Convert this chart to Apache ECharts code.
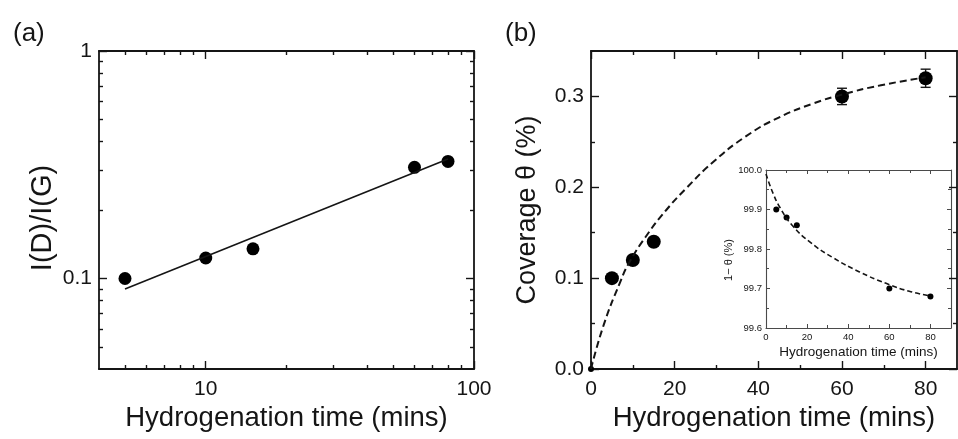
<!DOCTYPE html>
<html lang="en">
<head>
<meta charset="UTF-8">
<title>Hydrogenation time</title>
<style>
  html, body { margin: 0; padding: 0; background: #fff; }
  #main { width: 958px; height: 439px; }
</style>
</head>
<body>
<div id="main"></div>
<script src="https://cdn.jsdelivr.net/npm/echarts@6/dist/echarts.min.js"></script>
<script>
// (a) I(D)/I(G) against time, log-log
const aTime = [5, 10, 15, 60, 80];
const aRatio = [0.100, 0.123, 0.135, 0.308, 0.327];
const aFitTime = [5, 80];
const aFitRatio = [0.090, 0.335];
const aXMajor = [10, 100];
const aXMinor = [5, 6, 7, 8, 9, 20, 30, 40, 50, 60, 70, 80, 90];
const aYMajor = [0.1, 1];
const aYMinor = [0.05, 0.06, 0.07, 0.08, 0.09, 0.2, 0.3, 0.4, 0.5, 0.6, 0.7, 0.8, 0.9];

// (b) coverage against time
const bTime = [0, 5, 10, 15, 60, 80];
const bCov = [0, 0.100, 0.120, 0.140, 0.300, 0.320];
const bErrTime = [60, 80];
const bErrLow = [0.291, 0.310];
const bErrHigh = [0.309, 0.330];
const bFitTime = [0, 3, 7, 9, 13, 18, 23, 29, 37, 45, 53, 60, 69, 80];
const bFitCov = [0, 0.048, 0.096, 0.116, 0.145, 0.175, 0.200, 0.227, 0.256, 0.277, 0.292, 0.302, 0.312, 0.321];
const bXMajor = [0, 20, 40, 60, 80];
const bXMinor = [10, 30, 50, 70];
const bYMajor = [0, 0.1, 0.2, 0.3];
const bYMinor = [0.05, 0.15, 0.25];

// inset: 1 - theta
const iTime = [5, 10, 15, 60, 80];
const iVal = [99.90, 99.88, 99.86, 99.70, 99.68];
const iFitTime = [0, 3.5, 6.8, 12.4, 21.3, 32.6, 45.5, 58.4, 69.7, 80];
const iFitVal = [99.99, 99.94, 99.905, 99.862, 99.818, 99.778, 99.742, 99.713, 99.693, 99.681];
const iXMajor = [0, 20, 40, 60, 80];
const iXMinor = [10, 30, 50, 70, 90];
const iYMajor = [99.6, 99.7, 99.8, 99.9, 100.0];
const iYMinor = [99.65, 99.75, 99.85, 99.95];

const INK = '#151515';
const FONT = 'Liberation Sans';
const zip = (xs, ys) => xs.map((x, i) => [x, ys[i]]);

function ax(o) {
  return {
    type: o.type || 'value', gridIndex: o.grid, position: o.pos,
    min: o.min, max: o.max, logBase: 10,
    axisLine: { show: !!o.line, onZero: false, lineStyle: { color: o.color || INK, width: o.lw || 1.8 } },
    axisTick: { show: !!o.ticks, inside: true, length: o.len, customValues: o.ticks,
      lineStyle: { color: o.color || INK, width: o.tw || 1.4 } },
    axisLabel: o.labels
      ? { show: true, customValues: o.labels, formatter: o.fmt, fontSize: o.fs, fontFamily: FONT, color: INK, margin: o.margin }
      : { show: false },
    splitLine: { show: false },
    name: o.name || '', nameLocation: 'middle', nameGap: o.gap,
    nameTextStyle: Object.assign({ fontSize: o.nfs, fontFamily: FONT, color: INK }, o.nstyle)
  };
}

const xAxes = [], yAxes = [];
// four axes per direction: main side (line, major, labels), main minor, opposite side major, opposite minor
function sides(list, base, posA, posB, major, minor, lenMaj, lenMin, extra) {
  const idx = list.length;
  list.push(ax(Object.assign({}, base, extra, { pos: posA, line: true, ticks: major, len: lenMaj })));
  list.push(ax(Object.assign({}, base, { pos: posA, ticks: minor, len: lenMin })));
  list.push(ax(Object.assign({}, base, { pos: posB, line: true, ticks: major, len: lenMaj })));
  list.push(ax(Object.assign({}, base, { pos: posB, ticks: minor, len: lenMin })));
  return idx;
}

// (a)
const ax0 = sides(xAxes, { grid: 0, type: 'log', min: 4, max: 100 }, 'bottom', 'top', aXMajor, aXMinor, 8, 4,
  { labels: aXMajor, fmt: v => String(Math.round(v)), fs: 21, margin: 10,
    name: 'Hydrogenation time (mins)', gap: 32, nfs: 27.5 });
const ay0 = sides(yAxes, { grid: 0, type: 'log', min: 0.04, max: 1 }, 'left', 'right', aYMajor, aYMinor, 8, 4,
  { labels: aYMajor, fmt: v => String(parseFloat(v.toPrecision(2))), fs: 21, margin: 7,
    name: 'I(D)/I(G)', gap: 42, nfs: 29, nstyle: { padding: [0, 16, 0, 0] } });
// (b)
const ax1 = sides(xAxes, { grid: 1, min: 0, max: 87.5 }, 'bottom', 'top', bXMajor, bXMinor, 8, 4,
  { labels: bXMajor, fmt: v => String(Math.round(v)), fs: 21, margin: 10,
    name: 'Hydrogenation time (mins)', gap: 32, nfs: 27.5 });
const ay1 = sides(yAxes, { grid: 1, min: 0, max: 0.35 }, 'left', 'right', bYMajor, bYMinor, 8, 4,
  { labels: bYMajor, fmt: v => v.toFixed(1), fs: 21, margin: 7,
    name: 'Coverage θ (%)', gap: 50, nfs: 27 });
// inset
const insetBase = { color: '#4a4a4a', lw: 1.1, tw: 1 };
const ax2 = sides(xAxes, Object.assign({ grid: 2, min: 0, max: 90 }, insetBase), 'bottom', 'top', iXMajor, iXMinor, 4, 3,
  { labels: iXMajor, fmt: v => String(Math.round(v)), fs: 9.5, margin: 4,
    name: 'Hydrogenation time (mins)', gap: 17, nfs: 13.5 });
const ay2 = sides(yAxes, Object.assign({ grid: 2, min: 99.6, max: 100.0 }, insetBase), 'left', 'right', iYMajor, iYMinor, 4, 3,
  { labels: iYMajor, fmt: v => v.toFixed(1), fs: 9.5, margin: 4,
    name: '1\u2212 θ (%)', gap: 30, nfs: 11, nstyle: { padding: [0, 22, 0, 0] } });

const chart = echarts.init(document.getElementById('main'), null, { renderer: 'canvas' });
chart.setOption({
  animation: false,
  backgroundColor: '#fff',
  title: [
    { text: '(a)', left: 8, top: 16, textStyle: { fontSize: 26, fontWeight: 'normal', fontFamily: FONT, color: INK } },
    { text: '(b)', left: 500, top: 16, textStyle: { fontSize: 26, fontWeight: 'normal', fontFamily: FONT, color: INK } }
  ],
  grid: [
    { left: 99, top: 51, width: 375, height: 318 },
    { left: 591, top: 51, width: 366, height: 318 },
    { left: 766, top: 170, width: 185, height: 158 }
  ],
  xAxis: xAxes,
  yAxis: yAxes,
  series: [
    { type: 'line', xAxisIndex: ax0, yAxisIndex: ay0, data: zip(aFitTime, aFitRatio), symbol: 'none',
      lineStyle: { color: INK, width: 1.6 } },
    { type: 'scatter', xAxisIndex: ax0, yAxisIndex: ay0, data: zip(aTime, aRatio), symbolSize: 13,
      itemStyle: { color: '#000', opacity: 1 }, clip: false },

    { type: 'line', xAxisIndex: ax1, yAxisIndex: ay1, data: zip(bFitTime, bFitCov), symbol: 'none',
      smooth: true,
      lineStyle: { color: INK, width: 2, type: [7, 4] } },
    { type: 'custom', xAxisIndex: ax1, yAxisIndex: ay1,
      data: bErrTime.map((t, i) => [t, bErrLow[i], bErrHigh[i]]),
      encode: { x: 0, y: [1, 2] },
      renderItem: (params, api) => {
        const lo = api.coord([api.value(0), api.value(1)]);
        const hi = api.coord([api.value(0), api.value(2)]);
        const st = { stroke: INK, lineWidth: 1.4 };
        return { type: 'group', children: [
          { type: 'line', shape: { x1: lo[0], y1: lo[1], x2: hi[0], y2: hi[1] }, style: st },
          { type: 'line', shape: { x1: lo[0] - 5, y1: lo[1], x2: lo[0] + 5, y2: lo[1] }, style: st },
          { type: 'line', shape: { x1: hi[0] - 5, y1: hi[1], x2: hi[0] + 5, y2: hi[1] }, style: st }
        ] };
      } },
    { type: 'scatter', xAxisIndex: ax1, yAxisIndex: ay1, data: zip(bTime, bCov),
      symbolSize: v => (v[0] === 0 ? 6 : 14), itemStyle: { color: '#000', opacity: 1 }, clip: false },

    { type: 'line', xAxisIndex: ax2, yAxisIndex: ay2, data: zip(iFitTime, iFitVal), symbol: 'none',
      smooth: true,
      lineStyle: { color: INK, width: 1.6, type: [5, 3] } },
    { type: 'scatter', xAxisIndex: ax2, yAxisIndex: ay2, data: zip(iTime, iVal), symbolSize: 6,
      itemStyle: { color: '#000', opacity: 1 }, clip: false }
  ]
});
</script>
</body>
</html>
